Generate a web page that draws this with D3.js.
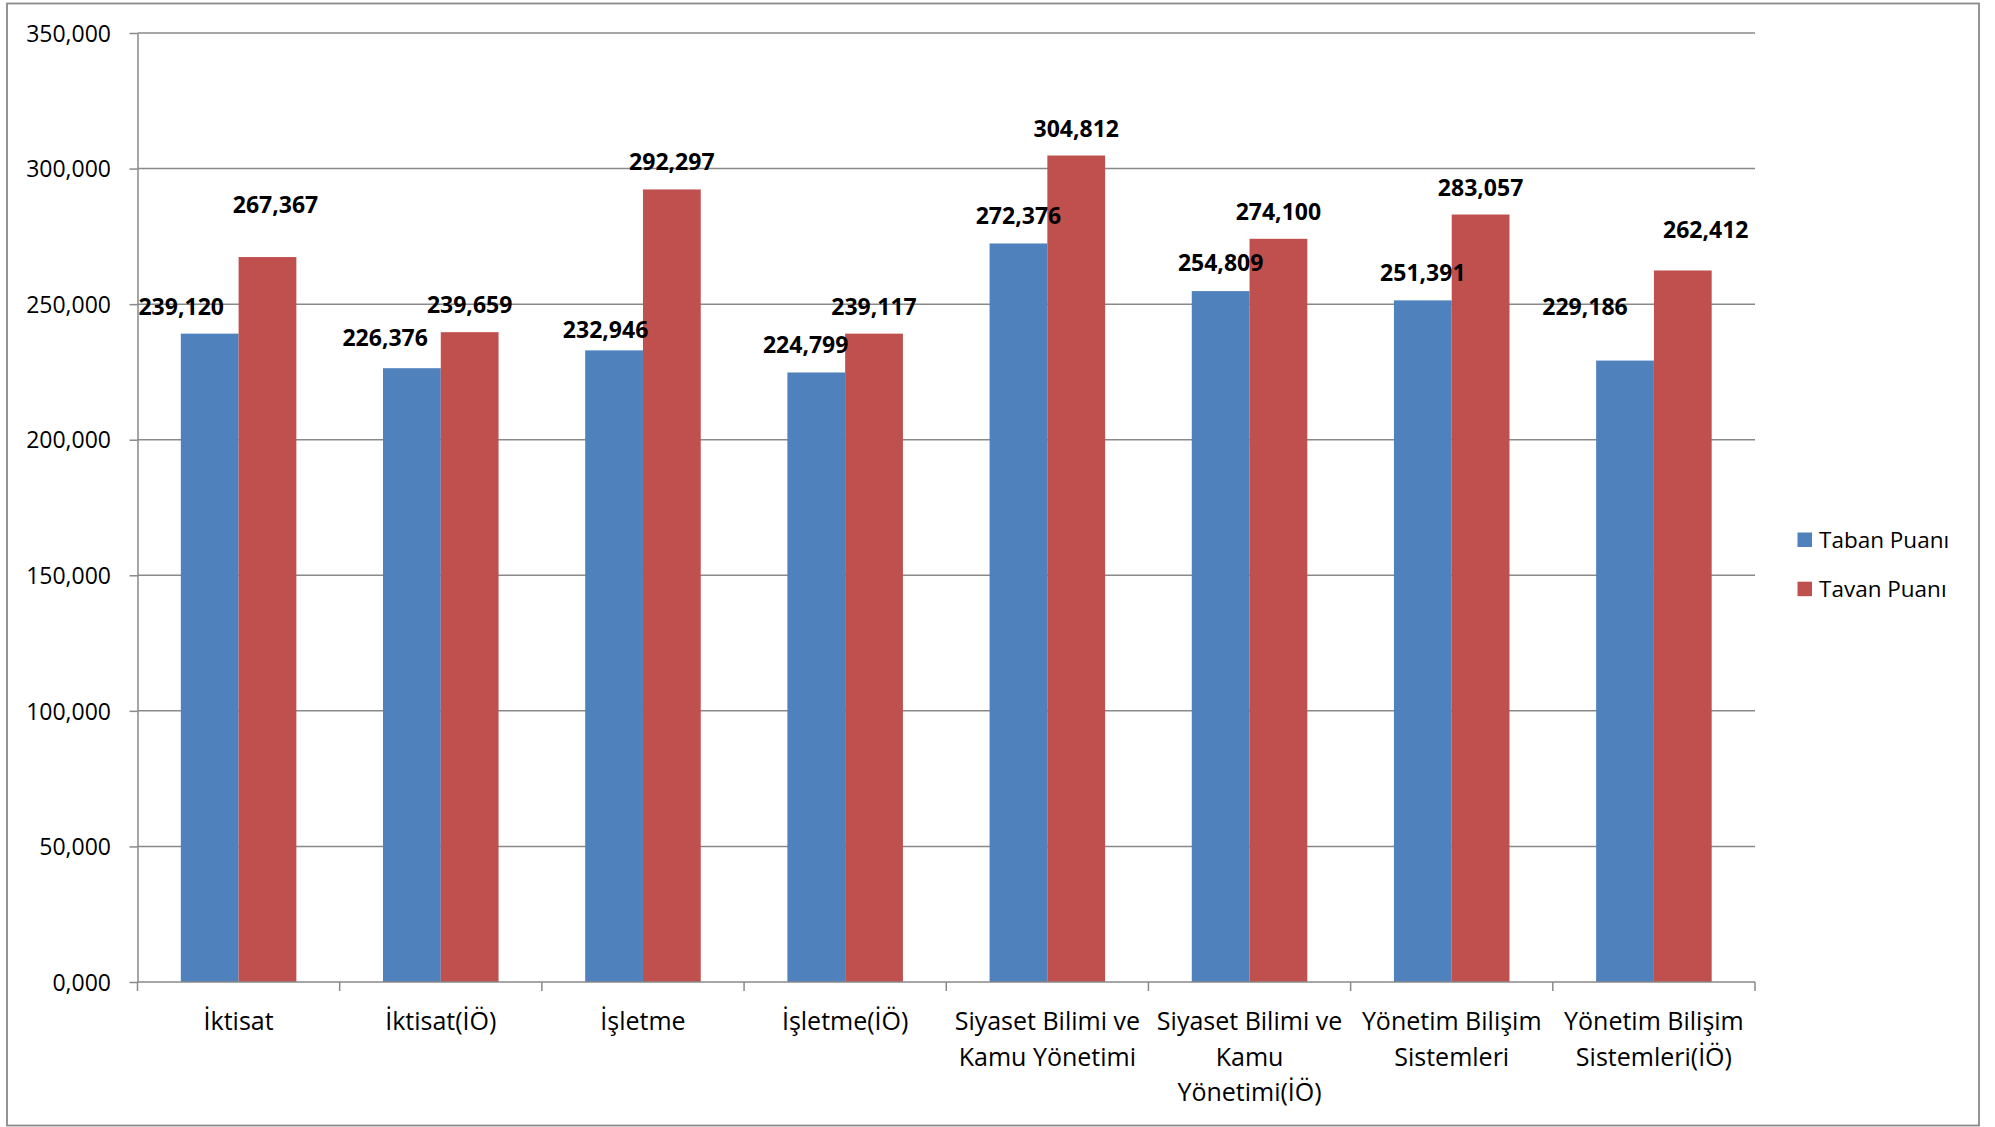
<!DOCTYPE html>
<html>
<head>
<meta charset="utf-8">
<script src="https://cdn.jsdelivr.net/npm/d3@7/dist/d3.min.js"></script>
<style>
  html, body { margin: 0; padding: 0; background: #fff; }
  svg { display: block; }
  text { font-family: "Open Sans", "Noto Sans", sans-serif; fill: #000; }
</style>
</head>
<body>
<svg id="chart" width="1995" height="1127"></svg>
<script>
// ---- data ----
const categories = [
  "İktisat",
  "İktisat(İÖ)",
  "İşletme",
  "İşletme(İÖ)",
  "Siyaset Bilimi ve\nKamu Yönetimi",
  "Siyaset Bilimi ve\nKamu\nYönetimi(İÖ)",
  "Yönetim Bilişim\nSistemleri",
  "Yönetim Bilişim\nSistemleri(İÖ)"
];
const seriesNames = ["Taban Puanı", "Tavan Puanı"];
const tabanValues = [239.120, 226.376, 232.946, 224.799, 272.376, 254.809, 251.391, 229.186];
const tavanValues = [267.367, 239.659, 292.297, 239.117, 304.812, 274.100, 283.057, 262.412];
const yTicks = [0, 50, 100, 150, 200, 250, 300, 350];

// label nudges (pixels) as placed in the original chart
const labelNudges = [
  [[-28.5, 0], [8, -25]],
  [[-26.7, -3], [0, 0]],
  [[-8.5, 6.5], [0, 0]],
  [[-10.6, 0], [0, 0]],
  [[0, 0], [0, 0]],
  [[0, -1], [0, 0]],
  [[0, 0], [0, 0]],
  [[-40, -27], [23, -13]]
];

const colors = ["#4F81BD", "#C0504D"];
const gridColor = "#898989";

const svg = d3.select("#chart");
const W = 1995, H = 1127;
const plot = { left: 137.5, right: 1755, top: 33, bottom: 982 };

const locale = d3.formatLocale({ decimal: ",", thousands: ".", grouping: [3], currency: ["", ""] });
const fmt = locale.format(".3f");

// outer border
svg.append("rect")
  .attr("x", 7).attr("y", 3.5)
  .attr("width", 1972).attr("height", 1122)
  .attr("fill", "#fff")
  .attr("stroke", gridColor).attr("stroke-width", 1.8);

const x0 = d3.scaleBand().domain(d3.range(categories.length))
  .range([plot.left, plot.right]).paddingInner(0).paddingOuter(0);
const x1 = d3.scaleBand().domain([0, 1])
  .range([0, x0.bandwidth()]).paddingInner(0).paddingOuter(0.75);
const y = d3.scaleLinear().domain([0, 350]).range([plot.bottom, plot.top]);

// gridlines
svg.append("g").selectAll("line")
  .data(yTicks.filter(d => d > 0))
  .join("line")
  .attr("x1", plot.left).attr("x2", plot.right)
  .attr("y1", d => y(d)).attr("y2", d => y(d))
  .attr("stroke", gridColor).attr("stroke-width", 1.5);

// y axis
const yAxis = d3.axisLeft(y).tickValues(yTicks).tickFormat(fmt)
  .tickSize(8).tickSizeOuter(0).tickPadding(18.5);
const gy = svg.append("g").attr("transform", `translate(${plot.left},0)`).call(yAxis);
gy.selectAll("path.domain").attr("stroke", gridColor).attr("stroke-width", 1.5);
gy.selectAll(".tick line").attr("stroke", gridColor).attr("stroke-width", 1.5);
gy.selectAll(".tick text")
  .attr("font-family", '"Open Sans", sans-serif')
  .attr("font-size", 23).attr("fill", "#000").attr("dy", "0.36em");

// bars
const series = [tabanValues, tavanValues];
const groups = svg.append("g").selectAll("g")
  .data(categories.map((c, i) => i))
  .join("g")
  .attr("transform", i => `translate(${x0(i)},0)`);

groups.selectAll("rect")
  .data(i => series.map((s, k) => ({ k, v: s[i], i })))
  .join("rect")
  .attr("x", d => x1(d.k))
  .attr("width", x1.bandwidth())
  .attr("y", d => y(d.v))
  .attr("height", d => y(0) - y(d.v))
  .attr("fill", d => colors[d.k]);

// x axis line and ticks
svg.append("line")
  .attr("x1", plot.left).attr("x2", plot.right)
  .attr("y1", plot.bottom).attr("y2", plot.bottom)
  .attr("stroke", gridColor).attr("stroke-width", 1.5);
const boundaries = d3.range(categories.length).map(i => x0(i)).concat([plot.right]);
svg.append("g").selectAll("line")
  .data(boundaries)
  .join("line")
  .attr("x1", d => d).attr("x2", d => d)
  .attr("y1", plot.bottom).attr("y2", plot.bottom + 9)
  .attr("stroke", gridColor).attr("stroke-width", 1.5);

// category labels
const catText = svg.append("g").selectAll("text")
  .data(categories)
  .join("text")
  .attr("text-anchor", "middle")
  .attr("font-size", 25)
  .attr("transform", (d, i) => `translate(${x0(i) + x0.bandwidth() / 2},${plot.bottom + 48})`);
catText.selectAll("tspan")
  .data(d => d.split("\n"))
  .join("tspan")
  .attr("x", 0)
  .attr("y", (d, j) => j * 35.5)
  .text(d => d);

// data labels
groups.selectAll("text.val")
  .data(i => series.map((s, k) => ({ k, v: s[i], i })))
  .join("text")
  .attr("class", "val")
  .attr("text-anchor", "middle")
  .attr("font-size", 23)
  .attr("font-weight", "bold")
  .attr("x", d => x1(d.k) + x1.bandwidth() / 2 + labelNudges[d.i][d.k][0])
  .attr("y", d => y(d.v) - 19 + labelNudges[d.i][d.k][1])
  .text(d => fmt(d.v));

// legend
const legend = svg.append("g").selectAll("g")
  .data(seriesNames)
  .join("g")
  .attr("transform", (d, k) => `translate(1797.5,${532.5 + k * 49.2})`);
legend.append("rect")
  .attr("width", 14.5).attr("height", 14.5)
  .attr("fill", (d, k) => colors[k]);
legend.append("text")
  .attr("x", 21.5).attr("y", 15)
  .attr("font-size", 22.5)
  .text(d => d);
</script>
</body>
</html>
